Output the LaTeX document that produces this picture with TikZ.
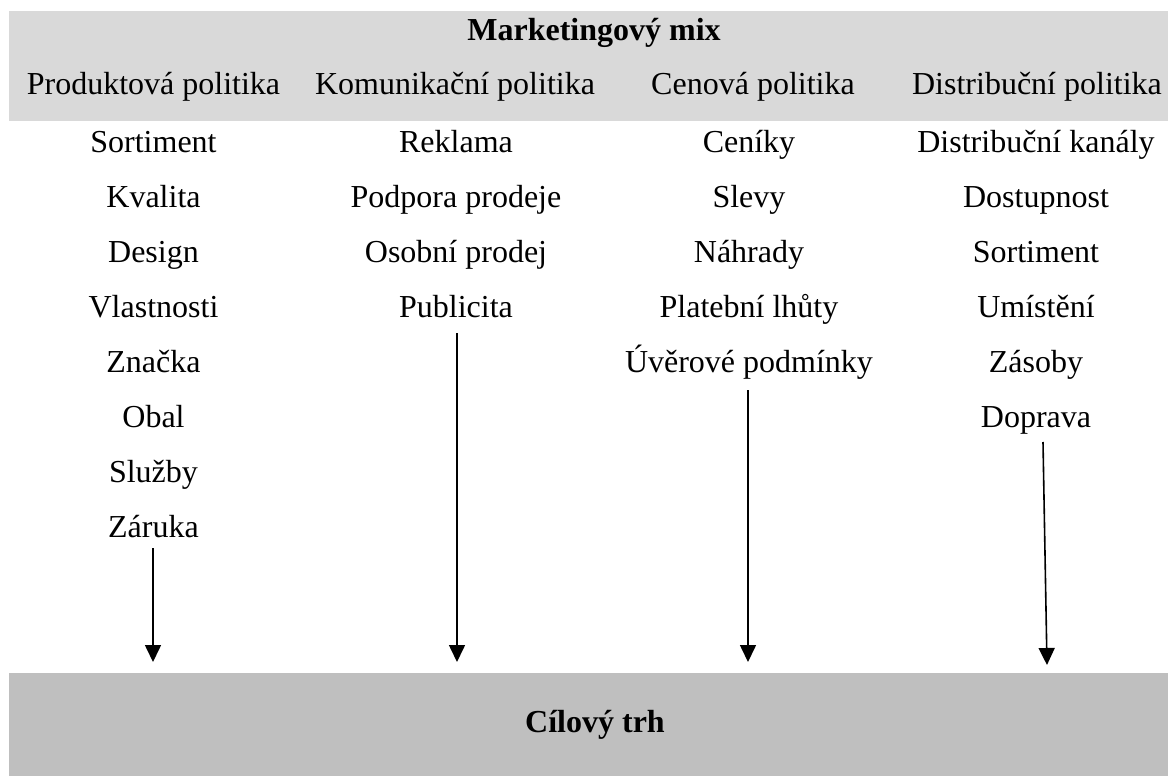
\documentclass[tikz,border=0pt]{standalone}
\usepackage{fontspec}
\setmainfont{Liberation Serif}
\usetikzlibrary{arrows.meta}
\definecolor{topgray}{HTML}{D9D9D9}
\definecolor{botgray}{HTML}{BFBFBF}
\begin{document}
\begin{tikzpicture}[x=1pt,y=-1pt,
  txt/.style={anchor=base,inner sep=0pt,font=\fontsize{32}{38}\selectfont},
  btxt/.style={txt,font=\fontsize{32}{38}\selectfont\bfseries},
  arr/.style={-{Triangle[width=16pt,length=17pt]},line width=1.6pt}]
\useasboundingbox (0,0) rectangle (1168,776);
\fill[topgray] (9,11) rectangle (1168,121);
\fill[botgray] (9,673) rectangle (1168,776);
\node[btxt] (mm) at (594,41) {Marketingový mix};
\node[txt] (h1) at (153.5,95) {Produktová politika};
\node[txt] (h2) at (455,95) {Komunikační politika};
\node[txt] (h3) at (753,95) {Cenová politika};
\node[txt] (h4) at (1037,95) {Distribuční politika};
% column 1
\node[txt] (a1) at (153.5,152) {Sortiment};
\node[txt] (a2) at (153.5,207) {Kvalita};
\node[txt] (a3) at (153.5,262) {Design};
\node[txt] (a4) at (153.5,317) {Vlastnosti};
\node[txt] (a5) at (153.5,372) {Značka};
\node[txt] (a6) at (153.5,427) {Obal};
\node[txt] (a7) at (153.5,482) {Služby};
\node[txt] (a8) at (153.5,537) {Záruka};
% column 2
\node[txt] (b1) at (456,152) {Reklama};
\node[txt] (b2) at (456,207) {Podpora prodeje};
\node[txt] (b3) at (456,262) {Osobní prodej};
\node[txt] (b4) at (456,317) {Publicita};
% column 3
\node[txt] (c1) at (749,152) {Ceníky};
\node[txt] (c2) at (749,207) {Slevy};
\node[txt] (c3) at (749,262) {Náhrady};
\node[txt] (c4) at (749,317) {Platební lhůty};
\node[txt] (c5) at (749,372) {Úvěrové podmínky};
% column 4
\node[txt] (d1) at (1036,152) {Distribuční kanály};
\node[txt] (d2) at (1036,207) {Dostupnost};
\node[txt] (d3) at (1036,262) {Sortiment};
\node[txt] (d4) at (1036,317) {Umístění};
\node[txt] (d5) at (1036,372) {Zásoby};
\node[txt] (d6) at (1036,427) {Doprava};
\node[btxt] (ct) at (595,732) {Cílový trh};
% arrows
\coordinate (s1) at (153,548);
\coordinate (e1) at (153,662);
\coordinate (s2) at (457,333);
\coordinate (e2) at (457,662);
\coordinate (s3) at (748,390);
\coordinate (e3) at (748,662);
\coordinate (s4) at (1043,442);
\coordinate (e4) at (1047,665);
\draw[arr] (s1) -- (e1);
\draw[arr] (s2) -- (e2);
\draw[arr] (s3) -- (e3);
\draw[arr] (s4) -- (e4);
\end{tikzpicture}
\end{document}
